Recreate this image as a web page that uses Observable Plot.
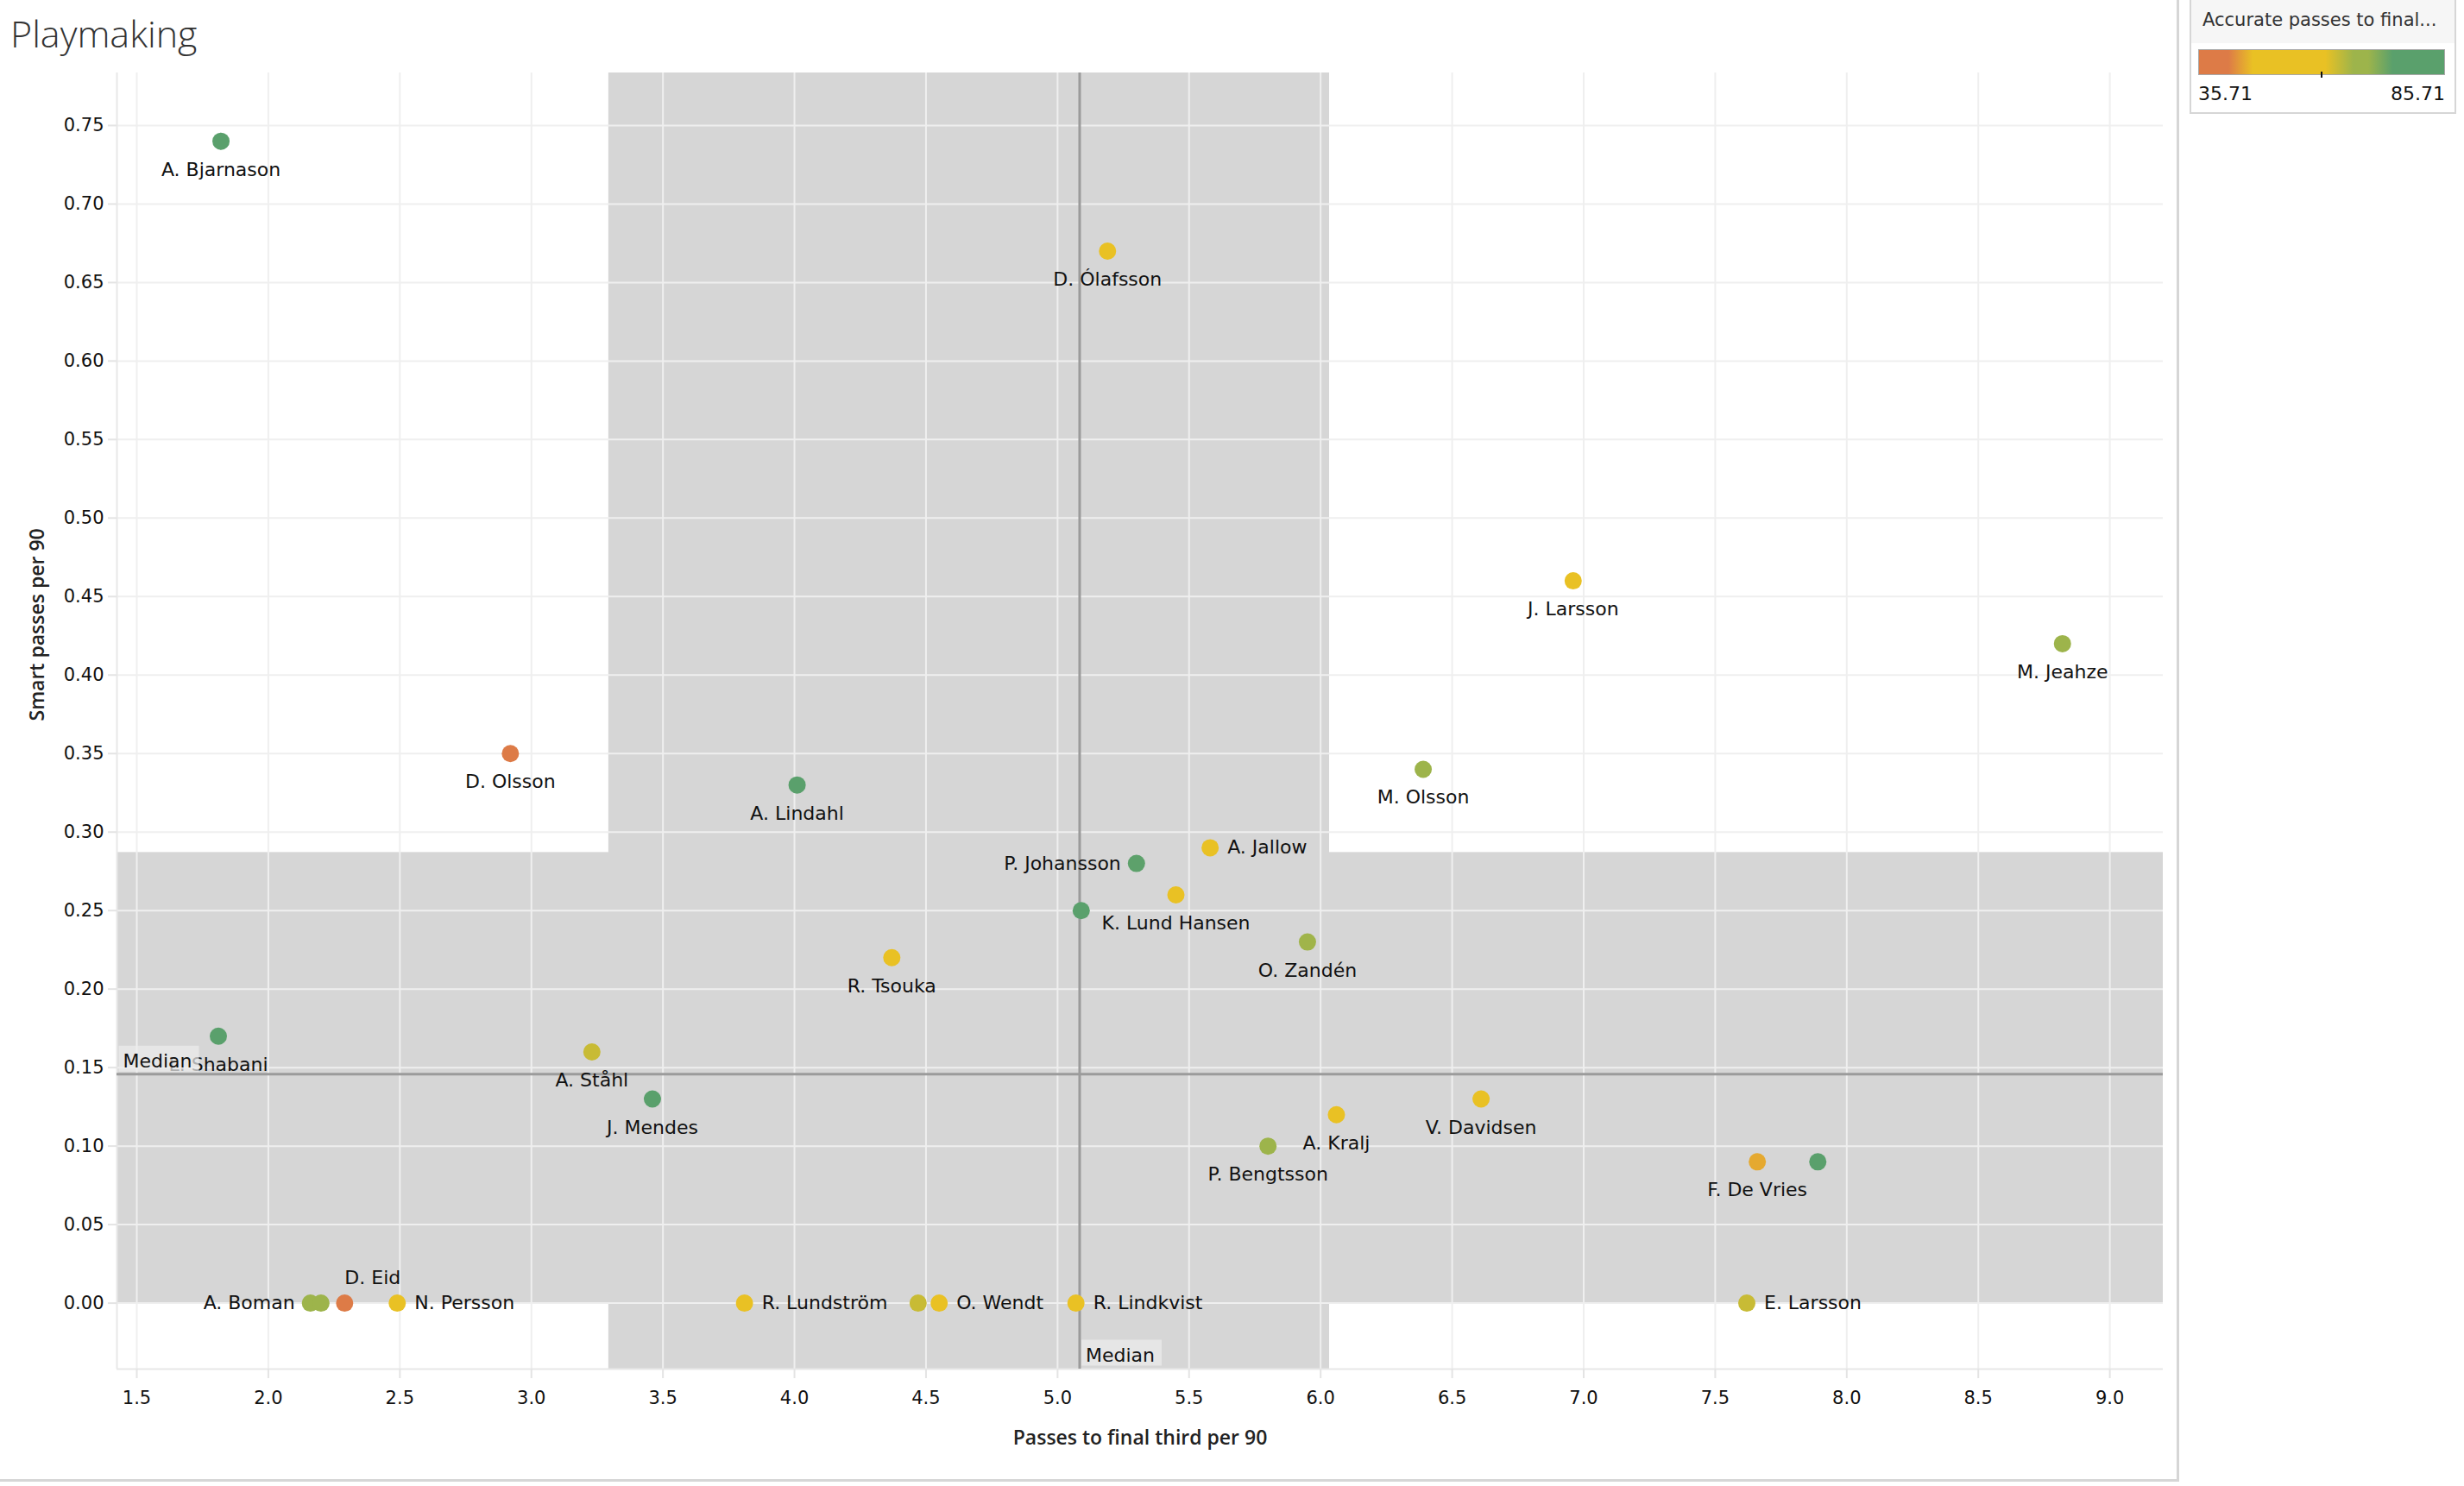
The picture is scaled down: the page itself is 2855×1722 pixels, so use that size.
<!DOCTYPE html>
<html>
<head>
<meta charset="utf-8">
<script src="https://cdn.jsdelivr.net/npm/d3@7"></script>
<script src="https://cdn.jsdelivr.net/npm/@observablehq/plot@0.6"></script>
<style>
  body { margin: 0; background: #fff; }
  #wrap { position: relative; width: 2855px; height: 1722px; overflow: hidden; font-family: "DejaVu Sans", sans-serif; }
  #title { position: absolute; left: 12px; top: 17px; font: 300 43px/43px "Open Sans", sans-serif; color: #333; white-space: nowrap; }
  #chart { position: absolute; left: 0; top: 60px; width: 2524px; }
  #vsep { position: absolute; left: 2522px; top: 0; width: 3px; height: 1717px; background: #d6d6d6; }
  #hsep { position: absolute; left: 0; top: 1714px; width: 2525px; height: 3px; background: #d6d6d6; }
  #legend { position: absolute; left: 2537px; top: -2px; width: 305px; height: 130px; border: 2px solid #d6d6d6; background: #fff; }
  #legend-head { position: absolute; left: 0; top: 0; width: 305px; height: 50px; background: #f6f6f6; }
  #legend-title { position: absolute; left: 13px; top: 11px; font: 21px/24px "DejaVu Sans", sans-serif; color: #333; white-space: nowrap; }
  #legend-bar { position: absolute; left: 8px; top: 57px; width: 284px; height: 28px; border: 1px solid #a8a8a8; }
  #legend-tick { position: absolute; top: 83px; width: 2px; height: 7px; background: #111; }
  .legend-lab { position: absolute; top: 96px; font: 22px/26px "DejaVu Sans", sans-serif; color: #111; }
</style>
</head>
<body>
<div id="wrap">
  <div id="title">Playmaking</div>
  <div id="chart"></div>
  <div id="vsep"></div>
  <div id="hsep"></div>
  <div id="legend">
    <div id="legend-head"><div id="legend-title">Accurate passes to final...</div></div>
    <div id="legend-bar"></div>
    <div id="legend-tick"></div>
    <div class="legend-lab" id="lab-min"></div>
    <div class="legend-lab" id="lab-max"></div>
  </div>
</div>
<script>
// ---------- data ----------
const players = ["A. Bjarnason","D. Ólafsson","J. Larsson","M. Jeahze","D. Olsson","A. Lindahl","M. Olsson","A. Jallow","P. Johansson","K. Lund Hansen","","O. Zandén","R. Tsouka","L. Shabani","A. Ståhl","J. Mendes","V. Davidsen","A. Kralj","P. Bengtsson","F. De Vries","","E. Larsson","A. Boman","","D. Eid","N. Persson","R. Lundström","","O. Wendt","R. Lindkvist"];
const passesFinalThird = [1.82,5.19,6.96,8.82,2.92,4.01,6.39,5.58,5.30,5.45,5.09,5.95,4.37,1.81,3.23,3.46,6.61,6.06,5.80,7.66,7.89,7.62,2.16,2.20,2.29,2.49,3.81,4.47,4.55,5.07];
const smartPasses = [0.74,0.67,0.46,0.42,0.35,0.33,0.34,0.29,0.28,0.26,0.25,0.23,0.22,0.17,0.16,0.13,0.13,0.12,0.10,0.09,0.09,0.00,0.00,0.00,0.00,0.00,0.00,0.00,0.00,0.00];
const accuracy = [80,60,55,69,37,80,69,54,75,53,80,67,54,80,64,81,55,53,69,45,76,64,69,69,35.71,52,55,64,55,50];

// label sides that differ from the default (below the point)
const labelSide = {"A. Jallow":"right","N. Persson":"right","R. Lundström":"right","O. Wendt":"right","R. Lindkvist":"right","E. Larsson":"right","A. Boman":"left","P. Johansson":"left","D. Eid":"above"};

const xTicks = [1.5,2.0,2.5,3.0,3.5,4.0,4.5,5.0,5.5,6.0,6.5,7.0,7.5,8.0,8.5,9.0];
const yTicks = [0,0.05,0.10,0.15,0.20,0.25,0.30,0.35,0.40,0.45,0.50,0.55,0.60,0.65,0.70,0.75];
const xDomain = [1.4245, 9.203];
const yDomain = [-0.042, 0.7835];

const medianX = 5.084;
const medianY = 0.1458;
const bandX = [3.294, 6.034];
const bandY = [0, 0.287];

const colorStops = [35.71, 41.7, 46.7, 61.5, 67.2, 70.2, 75.2, 85.71];
const colorRange = ["#dd7b47","#dd7b47","#e9c124","#e9c124","#9db44b","#9db44b","#5aa06c","#5aa06c"];
const legendTitle = "Accurate passes to final...";

// ---------- build ----------
const data = players.map((name, i) => ({
  name, x: passesFinalThird[i], y: smartPasses[i], acc: accuracy[i],
  side: name ? (labelSide[name] || "below") : "none"
}));
const bySide = s => data.filter(d => d.side === s);

const FONT = "DejaVu Sans";
const labelOpts = {x: "x", y: "y", text: "name", fontSize: 22, fontFamily: FONT, fill: "#111"};

const chart = Plot.plot({
  width: 2524,
  height: 1655,
  marginLeft: 135,
  marginRight: 18,
  marginTop: 24,
  marginBottom: 129,
  x: {domain: xDomain},
  y: {domain: yDomain},
  color: {type: "linear", domain: colorStops, range: colorRange, interpolate: "rgb"},
  style: {fontFamily: FONT, background: "transparent", overflow: "visible"},
  marks: [
    // reference bands
    Plot.rect([bandY], {x1: () => xDomain[0], x2: () => xDomain[1], y1: d => d[0], y2: d => d[1], fill: "#d6d6d6"}),
    Plot.rect([bandX], {x1: d => d[0], x2: d => d[1], y1: () => yDomain[0], y2: () => yDomain[1], fill: "#d6d6d6"}),
    // grid
    Plot.gridX(xTicks, {stroke: "#efefef", strokeOpacity: 1, strokeWidth: 2}),
    Plot.gridY(yTicks, {stroke: "#efefef", strokeOpacity: 1, strokeWidth: 2}),
    Plot.ruleX([xDomain[0]], {stroke: "#e8e8e8", strokeWidth: 2}),
    Plot.ruleY([yDomain[0]], {stroke: "#e8e8e8", strokeWidth: 2}),
    // axes
    Plot.axisX(xTicks, {tickSize: 11, tickPadding: 15, tickFormat: d3.format(".1f"), stroke: "#e4e4e4", strokeWidth: 2, fill: "#111", fontSize: 21, label: null}),
    Plot.axisY(yTicks, {tickSize: 10, tickPadding: 5, tickFormat: d3.format(".2f"), stroke: "#e4e4e4", strokeWidth: 2, fill: "#111", fontSize: 21, label: null}),
    // medians
    Plot.ruleX([medianX], {stroke: "#9b9b9b", strokeWidth: 3}),
    Plot.ruleY([medianY], {stroke: "#9b9b9b", strokeWidth: 3}),
    // points
    Plot.dot(data, {x: "x", y: "y", fill: "acc", r: 10}),
    // labels
    Plot.text(bySide("below"), {...labelOpts, dy: 40, lineAnchor: "bottom"}),
    Plot.text(bySide("right"), {...labelOpts, dx: 20, textAnchor: "start", lineAnchor: "middle"}),
    Plot.text(bySide("left"), {...labelOpts, dx: -18, textAnchor: "end", lineAnchor: "middle"}),
    Plot.text(bySide("above"), {...labelOpts, dy: -22, textAnchor: "start", lineAnchor: "bottom"}),
    // median labels
    Plot.text([medianY], {y: d => d, text: () => "Median", frameAnchor: "left", dx: 7, dy: -8, textAnchor: "start", lineAnchor: "bottom", fontSize: 22, fontFamily: FONT, fill: "#111"}),
    Plot.text([medianX], {x: d => d, text: () => "Median", frameAnchor: "bottom", dx: 7, dy: -9, textAnchor: "start", lineAnchor: "bottom", fontSize: 22, fontFamily: FONT, fill: "#111"}),
    // axis titles
    Plot.text(["Passes to final third per 90"], {text: d => d, frameAnchor: "bottom", dy: 80, lineAnchor: "middle", fontSize: 23, fontWeight: 600, fontFamily: "Open Sans", fill: "#222"}),
    Plot.text(["Smart passes per 90"], {text: d => d, frameAnchor: "left", dx: -92, rotate: -90, lineAnchor: "middle", fontSize: 23, fontWeight: 600, fontFamily: "Open Sans", fill: "#222"})
  ]
});
document.getElementById("chart").append(chart);

// boxes behind the "Median" annotations (semi-transparent, as in the reference)
chart.querySelectorAll("text").forEach(t => {
  if (t.textContent !== "Median") return;
  const bb = t.getBBox();
  const r = document.createElementNS("http://www.w3.org/2000/svg", "rect");
  r.setAttribute("x", bb.x - 5);
  r.setAttribute("y", bb.y - 5);
  r.setAttribute("width", bb.width + 13);
  r.setAttribute("height", 30);
  r.setAttribute("fill", "#ececec");
  r.setAttribute("fill-opacity", 0.72);
  r.setAttribute("stroke", "none");
  const tr = t.getAttribute("transform");
  if (tr) r.setAttribute("transform", tr);
  t.parentNode.insertBefore(r, t);
});

// legend
const cmin = colorStops[0], cmax = colorStops[colorStops.length - 1];
const grad = colorStops.map((v, i) => `${colorRange[i]} ${((v - cmin) / (cmax - cmin) * 100).toFixed(2)}%`).join(", ");
document.getElementById("legend-bar").style.background = `linear-gradient(to right, ${grad})`;
document.getElementById("legend-title").textContent = legendTitle;
const barLeft = 8, barW = 286;
const mid = (cmin + cmax) / 2;
document.getElementById("legend-tick").style.left = (barLeft + (mid - cmin) / (cmax - cmin) * barW - 1) + "px";
const lmin = document.getElementById("lab-min");
lmin.textContent = d3.format(".2f")(cmin);
lmin.style.left = barLeft + "px";
const lmax = document.getElementById("lab-max");
lmax.textContent = d3.format(".2f")(cmax);
lmax.style.right = (305 - barLeft - barW) + "px";
</script>
</body>
</html>
